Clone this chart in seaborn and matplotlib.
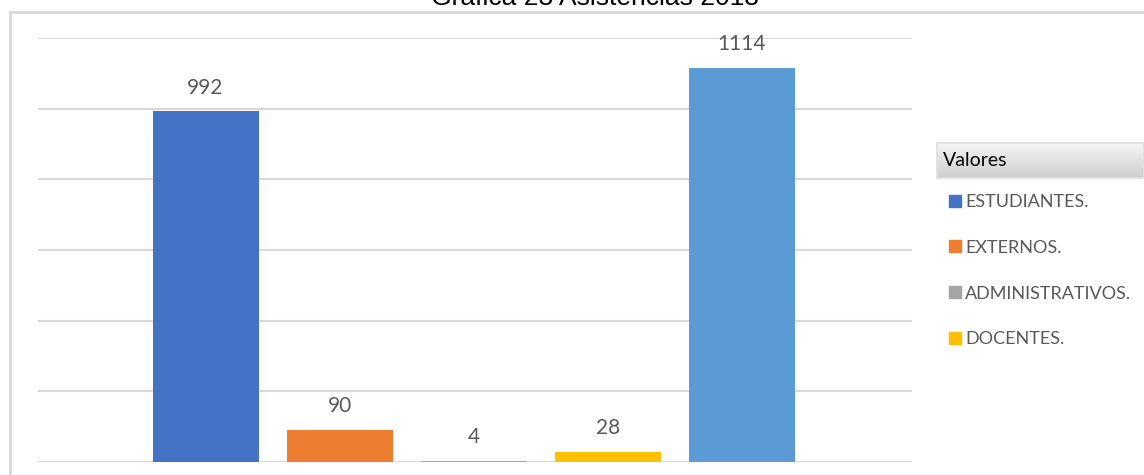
import seaborn as sns
import matplotlib.pyplot as plt
import matplotlib.patches as mpatches
from matplotlib.lines import Line2D
from matplotlib.colors import LinearSegmentedColormap
import numpy as np
import pandas as pd

categories = ["ESTUDIANTES.", "EXTERNOS.", "ADMINISTRATIVOS.", "DOCENTES.", "TOTAL"]
values = [992, 90, 4, 28, 1114]
colors = ["#4472C4", "#ED7D31", "#A5A5A5", "#FFC000", "#5B9BD5"]
legend_labels = categories[:4]

df = pd.DataFrame({"categoria": categories, "valor": values})

W, H = 1144, 475
narrow = ["Lato", "DejaVu Sans"]

sns.set_theme(style="white")
fig = plt.figure(figsize=(W / 100, H / 100), dpi=100)
fig.patch.set_facecolor("white")

# chart frame (cut at right and bottom like the screenshot)
fig.patches.append(mpatches.Rectangle((10 / W, -0.05), 1.1, (H - 12) / H + 0.05,
                                      transform=fig.transFigure, fill=False,
                                      edgecolor="#D9D9D9", linewidth=2))

# title, partly cut off at the top
fig.text(595 / W, (H - 5) / H, "Gráfica 23 Asistencias 2018", ha="center",
         va="baseline", fontsize=19, color="black", family=["Liberation Sans", "DejaVu Sans"])

ax = fig.add_axes([38 / W, (H - 462) / H, (912 - 38) / W, (462 - 38) / H])
sns.barplot(data=df, x="categoria", y="valor", hue="categoria", palette=colors,
            width=0.79, legend=False, ax=ax, saturation=1, linewidth=0)
ax.set_xlim(-1.25, 5.27)
ax.set_ylim(0, 1200)
ax.set_yticks(range(0, 1201, 200))
ax.yaxis.grid(True, color="#D9D9D9", linewidth=1.5)
ax.set_axisbelow(True)
ax.set_xticks([])
ax.set_yticklabels([])
ax.tick_params(left=False)
ax.set_xlabel("")
ax.set_ylabel("")
for s in ax.spines.values():
    s.set_visible(False)
for p in ax.patches:
    p.set_clip_on(False)

for i, v in enumerate(values):
    ax.annotate(str(v), (i, v), xytext=(0, 10), textcoords="offset points",
                ha="center", va="bottom", fontsize=15, color="#595959", family=narrow)

# legend header with gray gradient
hax = fig.add_axes([937 / W, (H - 178) / H, (W - 937) / W, 35 / H])
grad = np.linspace(0, 1, 64).reshape(-1, 1)
hax.imshow(grad, aspect="auto", cmap=LinearSegmentedColormap.from_list(
    "g", ["#F4F4F4", "#CFCFCF"]), extent=[0, 1, 0, 1], origin="upper")
hax.set_xticks([])
hax.set_yticks([])
for s in hax.spines.values():
    s.set_color("#E0E0E0")
hax.text(6 / (W - 937), 0.5, "Valores", va="center", ha="left", fontsize=14,
         color="black", family=narrow, transform=hax.transAxes)

handles = [Line2D([], [], marker="s", linestyle="none", markersize=8,
                  markerfacecolor=c, markeredgecolor=c) for c in colors[:4]]
fig.legend(handles, legend_labels, loc="upper left",
           bbox_to_anchor=(941 / W, (H - 185) / H), frameon=False,
           prop={"family": narrow, "size": 13}, labelcolor="#595959",
           handlelength=0.6, handletextpad=0.25, labelspacing=1.65, borderpad=0)

fig.savefig("out.png", dpi=100)
